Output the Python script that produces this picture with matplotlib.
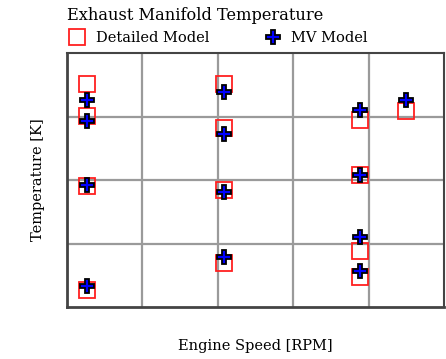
import matplotlib
matplotlib.use("Agg")
import matplotlib.pyplot as plt
from matplotlib.lines import Line2D

# Engine speed (RPM) of each operating point
speed_detailed = [270, 270, 270, 270, 2080, 2080, 2080, 2080,
                  3890, 3890, 3890, 3890, 4500]
speed_mv = [270, 270, 270, 270, 2080, 2080, 2080, 2080,
            3890, 3890, 3890, 3890, 4500]

# Exhaust manifold temperature (K)
temp_detailed = [851, 801, 691, 527, 851, 782, 684, 569,
                 794, 708, 588, 547, 808]
temp_mv = [826, 793, 692, 533, 839, 772, 681, 579,
           810, 708, 610, 557, 826]

x_limits = (0, 5000)
y_limits = (500, 900)
x_grid = [1000, 2000, 3000, 4000]
y_grid = [600, 700, 800]

plt.rcParams['font.family'] = ['DejaVu Serif']

fig = plt.figure(figsize=(4.46, 3.59), dpi=100)
ax = fig.add_axes([67 / 446, 1 - 307 / 359, 377 / 446, 254 / 359])

ax.set_xlim(*x_limits)
ax.set_ylim(*y_limits)
ax.set_xticks(x_grid)
ax.set_yticks(y_grid)
ax.tick_params(length=0, labelbottom=False, labelleft=False)
ax.grid(True, color='#9a9a9a', linewidth=1.6)
ax.set_axisbelow(True)
for side, sp in ax.spines.items():
    sp.set_color('#444444')
    sp.set_linewidth(2.0 if side in ('left', 'bottom') else 1.5)

sq_style = dict(linestyle='none', marker='s', markersize=11.5,
                markerfacecolor='none', markeredgecolor='#ff2020',
                markeredgewidth=1.3)
plus_style = dict(linestyle='none', marker='P', markersize=10.5,
                  markerfacecolor='#0000ff', markeredgecolor='black',
                  markeredgewidth=1.3)

ax.plot(speed_detailed, temp_detailed, zorder=3, **sq_style)
ax.plot(speed_mv, temp_mv, zorder=4, **plus_style)

fig.text(67 / 446, 1 - 16 / 359, 'Exhaust Manifold Temperature',
         fontsize=11.7, va='center', ha='left')

handles = [
    Line2D([], [], label='Detailed Model', **sq_style),
    Line2D([], [], label='MV Model', **plus_style),
]
fig.legend(handles=handles, ncol=2, frameon=False, fontsize=10.5,
           loc='center left', bbox_to_anchor=(70 / 446, 1 - 38 / 359),
           handlelength=1.0, handletextpad=0.75, columnspacing=3.9,
           borderaxespad=0, borderpad=0)

fig.text(38 / 446, 1 - 180 / 359, 'Temperature [K]', rotation=90,
         fontsize=10.5, va='center', ha='center')
fig.text(255 / 446, 1 - 346 / 359, 'Engine Speed [RPM]',
         fontsize=10.5, va='center', ha='center')

fig.savefig('out.png', dpi=100)
